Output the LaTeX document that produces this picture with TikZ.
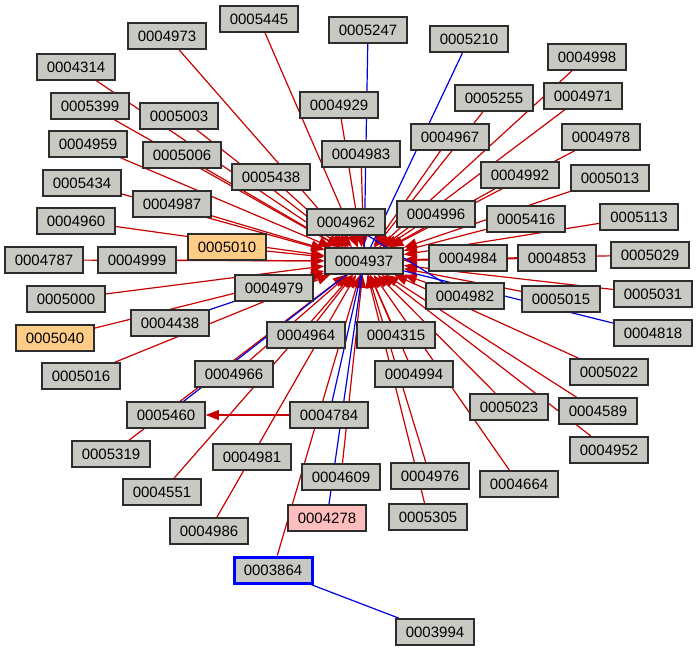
\documentclass[tikz,border=0pt]{standalone}
\usepackage{fontspec}
\setmainfont{Liberation Sans}
\usetikzlibrary{arrows.meta,backgrounds}
\definecolor{nodegray}{RGB}{200,201,194}
\definecolor{boxline}{RGB}{45,45,45}
\definecolor{edgered}{RGB}{200,0,0}
\definecolor{edgeblue}{RGB}{0,0,220}
\definecolor{orangefill}{RGB}{255,204,136}
\definecolor{pinkfill}{RGB}{255,190,190}
\begin{document}
\begin{tikzpicture}[x=1pt,y=-1pt,
  box/.style={draw=boxline,line width=1.6pt,fill=nodegray,minimum width=78pt,minimum height=26pt,inner sep=0pt,font=\fontsize{15}{17}\selectfont},
  orangebox/.style={box,fill=orangefill},
  pinkbox/.style={box,fill=pinkfill},
  startbox/.style={box,draw=blue,line width=3pt},
  re/.style={draw=edgered,line width=1.2pt,-{Triangle[length=13pt,width=10pt]}},
  be/.style={draw=edgeblue,line width=1.2pt}]
\useasboundingbox (0,0) rectangle (698,652);
\node[box] (n0004973) at (167,36) {0004973};
\node[box] (n0005445) at (259,19) {0005445};
\node[box] (n0005247) at (368,30) {0005247};
\node[box] (n0005210) at (469,39) {0005210};
\node[box] (n0004998) at (587,57) {0004998};
\node[box] (n0004314) at (76,67) {0004314};
\node[box] (n0005399) at (90,106) {0005399};
\node[box] (n0005003) at (179,116) {0005003};
\node[box] (n0004929) at (339,105) {0004929};
\node[box] (n0005255) at (494,98) {0005255};
\node[box] (n0004971) at (583,96) {0004971};
\node[box] (n0004959) at (88,144) {0004959};
\node[box] (n0005006) at (182,155) {0005006};
\node[box] (n0004983) at (361,154) {0004983};
\node[box] (n0004967) at (450,137) {0004967};
\node[box] (n0004978) at (601,137) {0004978};
\node[box] (n0005438) at (271,177) {0005438};
\node[box] (n0005434) at (82,183) {0005434};
\node[box] (n0004987) at (172,204) {0004987};
\node[box] (n0004992) at (520,175) {0004992};
\node[box] (n0005013) at (610,178) {0005013};
\node[box] (n0004960) at (76,221) {0004960};
\node[box] (n0004962) at (346,222) {0004962};
\node[box] (n0004996) at (436,214) {0004996};
\node[box] (n0005416) at (526,219) {0005416};
\node[box] (n0005113) at (639,217) {0005113};
\node[orangebox] (n0005010) at (227,247) {0005010};
\node[box] (n0004787) at (44,260) {0004787};
\node[box] (n0004999) at (137,260) {0004999};
\node[box] (n0004937) at (364,261) {0004937};
\node[box] (n0004984) at (468,258) {0004984};
\node[box] (n0004853) at (557,258) {0004853};
\node[box] (n0005029) at (650,255) {0005029};
\node[box] (n0004979) at (274,288) {0004979};
\node[box] (n0005000) at (66,299) {0005000};
\node[box] (n0004982) at (465,296) {0004982};
\node[box] (n0005015) at (561,299) {0005015};
\node[box] (n0005031) at (653,294) {0005031};
\node[box] (n0004438) at (170,323) {0004438};
\node[orangebox] (n0005040) at (55,338) {0005040};
\node[box] (n0004964) at (306,335) {0004964};
\node[box] (n0004315) at (396,335) {0004315};
\node[box] (n0004818) at (653,333) {0004818};
\node[box] (n0005016) at (81,376) {0005016};
\node[box] (n0004966) at (234,374) {0004966};
\node[box] (n0004994) at (414,374) {0004994};
\node[box] (n0005022) at (609,372) {0005022};
\node[box] (n0005460) at (166,415) {0005460};
\node[box] (n0004784) at (329,415) {0004784};
\node[box] (n0005023) at (509,407) {0005023};
\node[box] (n0004589) at (598,411) {0004589};
\node[box] (n0005319) at (111,454) {0005319};
\node[box] (n0004981) at (252,457) {0004981};
\node[box] (n0004952) at (609,450) {0004952};
\node[box] (n0004609) at (341,477) {0004609};
\node[box] (n0004976) at (430,476) {0004976};
\node[box] (n0004664) at (519,484) {0004664};
\node[box] (n0004551) at (162,492) {0004551};
\node[pinkbox] (n0004278) at (327,518) {0004278};
\node[box] (n0005305) at (428,517) {0005305};
\node[box] (n0004986) at (209,531) {0004986};
\node[startbox] (n0003864) at (273,570) {0003864};
\node[box] (n0003994) at (435,632) {0003994};
\begin{scope}[on background layer]
\foreach \s in {0004973,0005445,0004314,0005399,0005003,0004929,0004959,0005006,0004983,0004967,0005255,0004998,0004971,0004978,0004992,0005013,0005438,0005434,0004987,0004960,0004962,0004996,0005416,0005113,0005010,0004787,0004999,0004984,0004853,0005029,0005000,0004979,0004982,0005015,0005031,0005040,0005016,0004964,0004315,0004966,0004994,0005022,0005023,0004589,0004952,0004664,0004976,0005305,0004609,0004551,0004986,0003864,0005319}
  \draw[re] (n\s) -- (n0004937);
\draw[re] (n0004784) -- (n0005460);
\draw[be] (n0005247) -- (n0004937);
\draw[be] (n0005210) -- (n0004937);
\draw[be] (n0004962) -- (n0004982);
\draw[be] (n0004937) -- (n0004818);
\draw[be] (n0004438) -- (n0004979);
\draw[be] (n0005460) -- (n0004937);
\draw[be] (n0004784) -- (n0004937);
\draw[be] (n0004278) -- (n0004937);
\draw[be] (n0003864) -- (n0003994);
\end{scope}
\end{tikzpicture}
\end{document}
